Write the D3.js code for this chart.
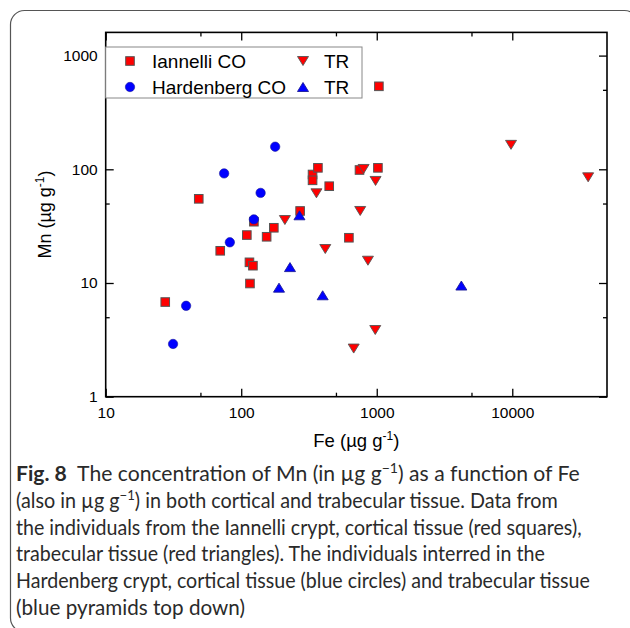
<!DOCTYPE html>
<html>
<head>
<meta charset="utf-8">
<script src="https://cdn.jsdelivr.net/npm/d3@7/dist/d3.min.js"></script>
<style>
body { margin: 0; background: #fff; }
</style>
</head>
<body>
<div id="chart"></div>
<script>
// Fe, Mn (µg g-1)
var iannelliCO = [[27.5,6.8],[48.6,55],[70,19.2],[110,26.4],[115,15.2],[122,14.2],[116,9.9],
    [124,34.6],[154,25.5],[174,30.6],[272,43],[336,90],[336,80],[368,103],[446,71],
    [623,25],[746,98.6],[1020,103],[1037,537]];
var iannelliTR = [[210,35.8],[359,61.5],[417,19.9],[676,2.65],[755,43],[800,100.7],
    [861,15.7],[975,3.86],[980,79],[9790,164],[36300,85]];
var hardenbergCO = [[31.4,2.91],[39.2,6.3],[74.8,92],[82.4,22.8],[124,36.3],[139,62],[178,158]];
var hardenbergTR = [[190,9.1],[229,13.8],[269,39.4],[399,7.8],[4210,9.5]];

var xMajor = [10, 100, 1000, 10000], xMinor = [50, 500, 5000];
var yMajor = [1, 10, 100, 1000], yMinor = [5, 50, 500];

var captionLines = [
    [["b", "Fig. 8"], ["t", "  The concentration of Mn (in µg g"], ["s", "−1"], ["t", ") as a function of Fe"]],
    [["t", "(also in µg g"], ["s", "−1"], ["t", ") in both cortical and trabecular tissue. Data from"]],
    [["t", "the individuals from the Iannelli crypt, cortical tissue (red squares),"]],
    [["t", "trabecular tissue (red triangles). The individuals interred in the"]],
    [["t", "Hardenberg crypt, cortical tissue (blue circles) and trabecular tissue"]],
    [["t", "(blue pyramids top down)"]]
];
var captionWidths = [564, 542, 566, 529, 574, 229];

(function () {
    var width = 630, height = 628;
    var left = 105.7, right = 607, bottom = 396.7;
    var decadeY = 113.7;
    var yMax = 1600;
    var top = bottom - decadeY * Math.log10(yMax);

    var svg = d3.select("#chart").append("svg")
        .attr("width", width)
        .attr("height", height)
        .style("font-family", "'Liberation Sans', Arial, sans-serif");

    svg.append("rect").attr("width", width).attr("height", height).attr("fill", "#fff");

    // rounded figure box
    svg.append("rect")
        .attr("x", 10.5).attr("y", 10.5)
        .attr("width", 628).attr("height", 621.5)
        .attr("rx", 14)
        .attr("fill", "none").attr("stroke", "#555").attr("stroke-width", 1.2);

    var x = d3.scaleLog().domain([10, 50000]).range([left, right]);
    var y = d3.scaleLog().domain([1, yMax]).range([bottom, top]);

    var fmt = function (d) { return String(d); };

    function addAxis(axisFn, scale, vals, size, transform, pad) {
        var g = svg.append("g").attr("transform", transform)
            .call(axisFn(scale).tickValues(vals).tickSize(-size).tickPadding(pad || 0)
                .tickFormat(pad ? fmt : ""));
        g.select(".domain").remove();
        g.selectAll(".tick line").attr("stroke", "#000").attr("stroke-width", 1.3);
        g.selectAll("text").attr("fill", "#000").style("font-size", "15.5px")
            .style("font-family", "'Liberation Sans', Arial, sans-serif");
        return g;
    }

    addAxis(d3.axisBottom, x, xMajor, 8, "translate(0," + bottom + ")", 10);
    addAxis(d3.axisBottom, x, xMinor, 4, "translate(0," + bottom + ")");
    addAxis(d3.axisTop, x, xMajor, 8, "translate(0," + top + ")");
    addAxis(d3.axisTop, x, xMinor, 4, "translate(0," + top + ")");
    addAxis(d3.axisLeft, y, yMajor, 8, "translate(" + left + ",0)", 8);
    addAxis(d3.axisLeft, y, yMinor, 4, "translate(" + left + ",0)");
    addAxis(d3.axisRight, y, yMajor, 8, "translate(" + right + ",0)");
    addAxis(d3.axisRight, y, yMinor, 4, "translate(" + right + ",0)");

    svg.append("rect")
        .attr("x", left).attr("y", top)
        .attr("width", right - left).attr("height", bottom - top)
        .attr("fill", "none").attr("stroke", "#000").attr("stroke-width", 1.6);

    // axis titles
    var xt = svg.append("text").attr("x", (left + right) / 2).attr("y", 447)
        .attr("text-anchor", "middle").style("font-size", "18.5px");
    xt.append("tspan").text("Fe (µg g");
    xt.append("tspan").attr("dy", -7).style("font-size", "12px").text("-1");
    xt.append("tspan").attr("dy", 7).text(")");

    var yt = svg.append("text")
        .attr("transform", "translate(51," + (top + bottom) / 2 + ") rotate(-90)")
        .attr("text-anchor", "middle").style("font-size", "18px");
    yt.append("tspan").text("Mn (µg g");
    yt.append("tspan").attr("dy", -7).style("font-size", "12px").text("-1");
    yt.append("tspan").attr("dy", 7).text(")");

    // markers
    var redFill = "#ff0000", blueFill = "#0000ff";
    var triDown = "M-5.5,-4.5L5.5,-4.5L0,4.5Z", triUp = "M-5.5,4.5L5.5,4.5L0,-4.5Z";

    function squares(g, data) {
        g.selectAll(null).data(data).enter().append("rect")
            .attr("x", function (d) { return x(d[0]) - 4.3; })
            .attr("y", function (d) { return y(d[1]) - 4.3; })
            .attr("width", 8.6).attr("height", 8.6)
            .attr("fill", redFill).attr("stroke", "#555").attr("stroke-width", 1);
    }
    function circles(g, data) {
        g.selectAll(null).data(data).enter().append("circle")
            .attr("cx", function (d) { return x(d[0]); })
            .attr("cy", function (d) { return y(d[1]); })
            .attr("r", 4.7)
            .attr("fill", blueFill).attr("stroke", "#1a1a9a").attr("stroke-width", 0.6);
    }
    function triangles(g, data, path, fill, stroke) {
        g.selectAll(null).data(data).enter().append("path")
            .attr("d", path)
            .attr("transform", function (d) { return "translate(" + x(d[0]) + "," + y(d[1]) + ")"; })
            .attr("fill", fill).attr("stroke", stroke).attr("stroke-width", 0.9);
    }

    var marks = svg.append("g");
    squares(marks, iannelliCO);
    circles(marks, hardenbergCO);
    triangles(marks, iannelliTR, triDown, redFill, "#555");
    triangles(marks, hardenbergTR, triUp, blueFill, "#1a1a9a");

    // legend
    var lg = svg.append("g");
    lg.append("rect").attr("x", left).attr("y", 47).attr("width", 362 - left).attr("height", 51)
        .attr("fill", "#fff").attr("stroke", "#888").attr("stroke-width", 1);
    var rows = [61, 87];
    lg.append("rect").attr("x", 130 - 4.3).attr("y", rows[0] - 4.3).attr("width", 8.6).attr("height", 8.6)
        .attr("fill", redFill).attr("stroke", "#555");
    lg.append("circle").attr("cx", 130).attr("cy", rows[1]).attr("r", 4.7)
        .attr("fill", blueFill).attr("stroke", "#1a1a9a").attr("stroke-width", 0.6);
    lg.append("path").attr("d", triDown).attr("transform", "translate(303," + rows[0] + ")")
        .attr("fill", redFill).attr("stroke", "#555").attr("stroke-width", 0.9);
    lg.append("path").attr("d", triUp).attr("transform", "translate(303," + rows[1] + ")")
        .attr("fill", blueFill).attr("stroke", "#1a1a9a").attr("stroke-width", 0.9);
    var labels = [["Iannelli CO", 152, rows[0]], ["Hardenberg CO", 152, rows[1]],
                  ["TR", 324, rows[0]], ["TR", 324, rows[1]]];
    lg.selectAll(null).data(labels).enter().append("text")
        .attr("x", function (d) { return d[1]; })
        .attr("y", function (d) { return d[2] + 6.8; })
        .style("font-size", "19px")
        .text(function (d) { return d[0]; });

    // caption
    var cap = svg.append("g").style("font-family", "Lato, 'Open Sans', sans-serif").style("font-size", "21px")
        .attr("fill", "#2a2a2a");
    captionLines.forEach(function (line, i) {
        var t = cap.append("text").attr("x", 0).attr("y", 0).attr("xml:space", "preserve");
        line.forEach(function (part, j) {
            if (part[0] === "b") {
                t.append("tspan").style("font-weight", "bold").text(part[1]);
            } else if (part[0] === "s") {
                t.append("tspan").attr("dy", -8).style("font-size", "14px").text(part[1]);
            } else {
                var sp = t.append("tspan").text(part[1]);
                if (j > 0 && line[j - 1][0] === "s") sp.attr("dy", 8);
            }
        });
        var w = t.node().getComputedTextLength();
        var s = captionWidths[i] / w;
        t.attr("transform", "translate(16," + (481 + i * 26.8) + ") scale(" + s + ",1)");
    });
})();
</script>
</body>
</html>
